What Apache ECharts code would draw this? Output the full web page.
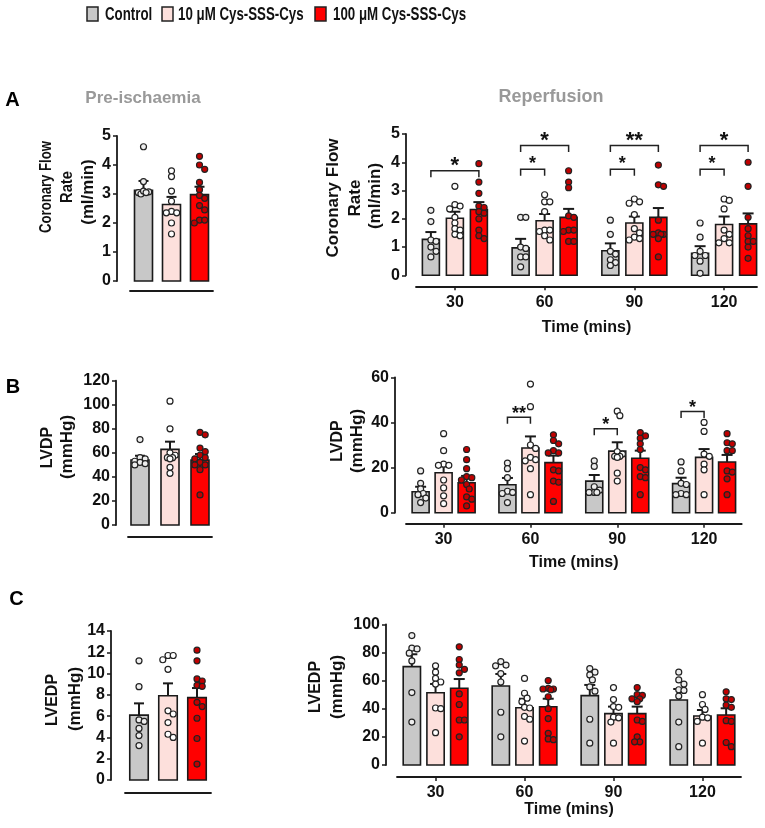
<!DOCTYPE html>
<html><head><meta charset="utf-8">
<script src="https://cdn.jsdelivr.net/npm/echarts@6/dist/echarts.min.js"></script>
<style>html,body{margin:0;padding:0;background:#fff}#c{width:765px;height:828px}</style>
</head><body><div id="c"></div>
<script>
// ---------------- DATA ----------------
const groupNames = ['Control', '10 μM Cys-SSS-Cys', '100 μM Cys-SSS-Cys'];
const times = [30, 60, 90, 120];
const timeTicks = ['30', '60', '90', '120'];

// A: Coronary flow rate (ml/min)
const cfPreMean = [3.13, 2.64, 2.98];
const cfPreSem = [0.32, 0.26, 0.27];
const cfPrePoints = [
  [4.63, 3.43, 3.07, 3.05, 3.0, 3.1, 3.05],
  [3.8, 3.6, 3.1, 2.75, 2.4, 2.35, 2.35, 2.0, 1.62],
  [4.3, 4.0, 3.85, 3.4, 3.15, 2.95, 2.85, 2.6, 2.45, 2.1, 2.0, 2.1]
];
const cfRepMean = [[1.27, 0.97, 0.87, 0.78], [2.02, 1.93, 1.85, 1.80], [2.33, 2.05, 2.05, 1.82]];
const cfRepSem = [[0.26, 0.32, 0.26, 0.25], [0.23, 0.24, 0.23, 0.28], [0.26, 0.30, 0.33, 0.37]];
const cfRepPoints = [
  [[2.3, 1.9, 1.25, 1.2, 1.0, 0.85, 0.65], [2.05, 2.05, 1.0, 0.95, 0.65, 0.65, 0.3],
   [1.95, 1.45, 0.85, 0.75, 0.55, 0.45, 0.35], [1.85, 1.35, 0.85, 0.7, 0.7, 0.5, 0.07]],
  [[3.15, 2.5, 2.45, 2.35, 2.05, 1.85, 1.65, 1.6, 1.45, 1.4], [2.85, 2.6, 2.6, 2.25, 1.6, 1.6, 1.55, 1.4, 1.25],
   [2.7, 2.6, 2.55, 2.15, 1.65, 1.5, 1.35, 1.3, 1.25], [2.7, 2.65, 2.35, 1.6, 1.45, 1.3, 1.15, 1.15]],
  [[3.95, 3.3, 2.9, 2.45, 2.4, 2.25, 2.2, 2.0, 1.6, 1.4, 1.3], [3.7, 3.3, 3.1, 2.1, 2.05, 1.6, 1.6, 1.55, 1.2, 1.2],
   [3.9, 3.2, 3.15, 1.95, 1.5, 1.45, 1.45, 1.45, 1.3, 0.65], [4.0, 3.15, 2.05, 1.65, 1.4, 1.2, 1.2, 1.0, 0.6]]
];
// significance: [time, fromGroup, toGroup, bracket level]
const cfSig = [[30, 0, 2, 3.70], [60, 0, 2, 4.59], [60, 0, 1, 3.75], [90, 0, 2, 4.59], [90, 0, 1, 3.75], [120, 0, 2, 4.59], [120, 0, 1, 3.75]];
const cfSigLabels = ['*', '*', '*', '**', '*', '*', '*'];

// B: LVDP (mmHg)
const lvdpPreMean = [54, 62.9, 54];
const lvdpPreSem = [3.6, 6.4, 5];
const lvdpPrePoints = [
  [71, 56, 55, 53, 52, 51, 50],
  [103, 80, 60, 58, 56, 56, 55, 48, 43],
  [77, 75, 64, 61, 58, 56, 55, 52, 50, 50, 46, 25]
];
const lvdpRepMean = [[9.3, 12.4, 14, 12.9], [17.7, 28.7, 27.3, 24.5], [13.3, 22.2, 24.1, 22.5]];
const lvdpRepSem = [[2.2, 3.0, 2.7, 2.6], [3.9, 5.1, 3.9, 3.7], [3.0, 3.1, 3.4, 3.1]];
const lvdpRepPoints = [
  [[18.5, 13, 10.5, 8.5, 8, 6.5, 4.5], [22, 19.5, 15.5, 9.5, 9, 8.5, 4.5],
   [23, 20.5, 11.5, 10, 9, 9, 9], [22.5, 18.5, 13, 12.5, 8.5, 8, 8]],
  [[35, 27.5, 21.5, 21, 21, 14.5, 11, 7.5, 4], [57, 47, 30, 28.5, 24.5, 23.5, 23, 19.5, 8],
   [45, 43, 27, 26, 25, 25, 24.5, 17.5, 14], [40, 36, 26, 25, 21.5, 19, 8]],
  [[28, 23.5, 19.5, 16, 15.5, 14.5, 12.5, 10.5, 7, 6, 3], [34.5, 32, 30.5, 27.5, 26.5, 26.5, 19, 18.5, 14, 13.5, 5],
   [35.5, 34, 33, 30.5, 28, 20, 19, 16, 15.5, 8], [35, 31, 30.5, 27.5, 27.5, 18.5, 18, 15, 8]]
];
const lvdpSig = [[60, 0, 1, 42.3], [90, 0, 1, 37.2], [120, 0, 1, 44.8]];
const lvdpSigLabels = ['**', '*', '*'];

// C: LVEDP (mmHg)
const lvedpPreMean = [6.1, 7.92, 7.74];
const lvedpPreSem = [1.1, 1.16, 0.9];
const lvedpPrePoints = [
  [11.2, 8.77, 5.64, 5.5, 4.85, 4.17, 3.23],
  [11.7, 11.7, 11.3, 10.4, 6.5, 6.2, 5.4, 4.3, 4.0],
  [12.2, 11.2, 9.5, 9.3, 8.9, 8.8, 7.3, 6.9, 5.8, 3.9, 1.5]
];
const lvedpRepMean = [[69.9, 56.1, 49.3, 46.2], [51.4, 40.7, 36.5, 34.8], [54.5, 41.4, 36.5, 35.5]];
const lvedpRepSem = [[8.8, 8.6, 7.6, 7.8], [6.2, 6.4, 5.0, 4.3], [6.6, 5.7, 5.0, 4.8]];
const lvedpRepPoints = [
  [[92, 83, 82.5, 79.5, 74, 51.5, 30.5], [73.5, 71, 70.5, 65, 59, 37.5, 20],
   [68.5, 66, 64, 60.5, 55.5, 52.5, 32.5, 15.5], [66, 60.5, 57.5, 53.5, 53, 49, 30.5, 13]],
  [[70.5, 66, 61.5, 59, 57.5, 40.5, 40, 23], [61.5, 51, 47.5, 45, 41, 40.5, 34.5, 32.5, 17],
   [55, 46.5, 41.5, 41, 34, 33.5, 30.5, 15.5], [50, 43, 39.5, 34, 33.5, 31, 15.5]],
  [[84, 75, 71, 68, 65.5, 50.5, 43, 32, 32, 20], [60, 54.5, 54, 54, 53.5, 48.5, 40, 33, 22.5, 18.5, 18],
   [55, 50, 49.5, 47, 47, 45, 32, 31, 20, 16.5, 16.5], [52, 47, 46.5, 42.5, 41, 31.5, 31, 16, 13]]
];

// ---------------- STYLE / LAYOUT ----------------
const fontBase = "'Liberation Sans', Arial, sans-serif";
const barFill = ['#c8c8c8', '#fde0dc', '#ff0000'];
const dotFill = ['#eeeeee', '#ffffff', '#c00000'];
const ink = '#1a1a1a';

const wrap1 = a => a.map(v => [v]);
const panels = [
  {grid: {left: 130, top: 136, width: 83, height: 145}, xMin: -1, xMax: 1, xs: [0], yMax: 5, yInt: 1, yOff: 13, xOff: 10,
   step: 28, bw: 18, cap: 10, mean: wrap1(cfPreMean), sem: wrap1(cfPreSem), pts: cfPrePoints.map(a => [a]), right: false},
  {grid: {left: 416, top: 134, width: 341, height: 141.3}, xMin: 17, xMax: 131, xs: times, yMax: 5, yInt: 1, yOff: 10, xOff: 11,
   step: 24, bw: 17, cap: 11, mean: cfRepMean, sem: cfRepSem, pts: cfRepPoints, right: true, nameGap: 33,
   sig: cfSig, sigLabels: cfSigLabels, sigBig: 22, sigSmall: 18, sigGap: 9.5},
  {grid: {left: 128, top: 380.7, width: 84, height: 144.3}, xMin: -1, xMax: 1, xs: [0], yMax: 120, yInt: 20, yOff: 12, xOff: 12,
   step: 30, bw: 18, cap: 10, mean: wrap1(lvdpPreMean), sem: wrap1(lvdpPreSem), pts: lvdpPrePoints.map(a => [a]), right: false},
  {grid: {left: 406, top: 377.3, width: 335.7, height: 135.4}, xMin: 17, xMax: 133, xs: times, yMax: 60, yInt: 20, yOff: 11, xOff: 11,
   step: 23, bw: 17, cap: 11, mean: lvdpRepMean, sem: lvdpRepSem, pts: lvdpRepPoints, right: true, nameGap: 31,
   sig: lvdpSig, sigLabels: lvdpSigLabels, sigBig: 18, sigSmall: 18, sigGap: 7.5},
  {grid: {left: 125, top: 631, width: 86, height: 149}, xMin: -1, xMax: 1, xs: [0], yMax: 14, yInt: 2, yOff: 14, xOff: 13,
   step: 29, bw: 18.5, cap: 10, mean: wrap1(lvedpPreMean), sem: wrap1(lvedpPreSem), pts: lvedpPrePoints.map(a => [a]), right: false},
  {grid: {left: 397, top: 624.3, width: 344, height: 140.7}, xMin: 17, xMax: 133, xs: times, yMax: 100, yInt: 20, yOff: 11, xOff: 12,
   step: 23.7, bw: 17.3, cap: 11, mean: lvedpRepMean, sem: lvedpRepSem, pts: lvedpRepPoints, right: true, nameGap: 24.5}
];

// deterministic beeswarm offsets (pixels) so dots at similar values spread sideways
function swarm(vals, k, bw) {
  const order = vals.map((v, i) => i).sort((a, b) => vals[b] - vals[a]);
  const placed = [], offs = new Array(vals.length).fill(0);
  const minD = 5.2, stepX = 2.6, maxX = bw / 2 - 2;
  const cands = [0];
  for (let d = stepX; d <= maxX + 0.01; d += stepX) cands.push(d, -d);
  order.forEach(i => {
    const y = vals[i] * k;
    let best = 0, bestScore = -1;
    for (const c of cands) {
      let md = Infinity;
      placed.forEach(q => { const dd = Math.hypot(q[0] - c, q[1] - y); if (dd < md) md = dd; });
      if (md >= minD) { best = c; break; }
      if (md > bestScore) { bestScore = md; best = c; }
    }
    offs[i] = best; placed.push([best, y]);
  });
  return offs;
}

const grids = [], xAxes = [], yAxes = [], series = [];
panels.forEach((p, pi) => {
  grids.push(Object.assign({outerBoundsMode: 'none', containLabel: false}, p.grid));
  xAxes.push({
    type: 'value', gridIndex: pi, min: p.xMin, max: p.xMax, offset: p.xOff, position: 'bottom',
    splitLine: {show: false},
    axisLine: {show: true, onZero: false, lineStyle: {color: ink, width: 1.8}},
    axisTick: p.right ? {show: true, customValues: times, length: 4, lineStyle: {color: ink, width: 1.5}} : {show: false},
    axisLabel: p.right ? {show: true, customValues: times, margin: 8, color: '#111', fontWeight: 'bold', fontSize: 16, fontFamily: fontBase,
      formatter: v => timeTicks[times.indexOf(v)]} : {show: false},
    name: p.right ? 'Time (mins)' : '', nameLocation: 'middle', nameGap: p.nameGap || 0,
    nameTextStyle: {color: '#111', fontWeight: 'bold', fontSize: 16, fontFamily: fontBase}
  });
  yAxes.push({
    type: 'value', gridIndex: pi, min: 0, max: p.yMax, interval: p.yInt, offset: p.yOff, position: 'left',
    splitLine: {show: false},
    axisLine: {show: true, onZero: false, lineStyle: {color: ink, width: 1.8}},
    axisTick: {show: true, length: 4, lineStyle: {color: ink, width: 1.5}},
    axisLabel: {margin: 6, color: '#111', fontWeight: 'bold', fontSize: 16, fontFamily: fontBase}
  });
  for (let g = 0; g < 3; g++) {
    // bars + upper error bars
    series.push({
      type: 'custom', name: groupNames[g], xAxisIndex: pi, yAxisIndex: pi, z: 2, silent: true,
      itemStyle: {color: barFill[g], borderColor: ink, borderWidth: 1.5},
      encode: {x: 0, y: 1},
      data: p.xs.map((x, i) => [x, p.mean[g][i], p.sem[g][i]]),
      renderItem(params, api) {
        const x = api.value(0), m = api.value(1), s = api.value(2);
        const top = api.coord([x, m]), base = api.coord([x, 0]), et = api.coord([x, m + s]);
        const cx = top[0] + (g - 1) * p.step;
        return {type: 'group', children: [
          {type: 'line', shape: {x1: cx, y1: top[1], x2: cx, y2: et[1]}, style: {stroke: ink, lineWidth: 2}},
          {type: 'line', shape: {x1: cx - p.cap / 2, y1: et[1], x2: cx + p.cap / 2, y2: et[1]}, style: {stroke: ink, lineWidth: 2}},
          {type: 'rect', shape: {x: cx - p.bw / 2, y: top[1], width: p.bw, height: base[1] - top[1]},
           style: {fill: barFill[g], stroke: ink, lineWidth: 1.6}}
        ]};
      }
    });
    // individual animals
    const k = p.grid.height / p.yMax;
    const data = [];
    p.xs.forEach((x, i) => {
      const vals = p.pts[g][i];
      const offs = swarm(vals, k, p.bw);
      vals.forEach((v, j) => data.push({value: [x, v], symbolOffset: [(g - 1) * p.step + offs[j], 0]}));
    });
    series.push({
      type: 'scatter', name: 'pts' + pi + '_' + g, xAxisIndex: pi, yAxisIndex: pi, z: 3, silent: true,
      symbol: 'circle', symbolSize: 6,
      itemStyle: {color: dotFill[g], borderColor: '#222', borderWidth: 1.2, opacity: 1},
      emphasis: {disabled: true}, data
    });
  }
  if (p.sig) {
    series.push({
      type: 'custom', name: 'sig' + pi, xAxisIndex: pi, yAxisIndex: pi, z: 4, silent: true,
      encode: {x: 0, y: 3},
      data: p.sig.map((s, i) => [s[0], s[1], s[2], s[3], i]),
      renderItem(params, api) {
        const pt = api.coord([api.value(0), api.value(3)]);
        const x1 = pt[0] + (api.value(1) - 1) * p.step, x2 = pt[0] + (api.value(2) - 1) * p.step;
        const y = pt[1], leg = 6.5;
        const fs = (api.value(2) - api.value(1) > 1) ? p.sigBig : p.sigSmall;
        return {type: 'group', children: [
          {type: 'polyline', shape: {points: [[x1, y + leg], [x1, y], [x2, y], [x2, y + leg]]},
           style: {stroke: '#222', lineWidth: 1.5, fill: 'none'}},
          {type: 'text', x: (x1 + x2) / 2, y: y - p.sigGap + 0.22 * fs,
           style: {text: p.sigLabels[api.value(4)], fontSize: fs, fontWeight: 'bold', fontFamily: fontBase, fill: '#111',
                   align: 'center', verticalAlign: 'middle'}}
        ]};
      }
    });
  }
});

// rotated axis titles: [text, x, y, fontSize, scaleX]
const yTitles = [
  ['Coronary Flow', 47, 187, 16, 0.82], ['Rate', 68, 187, 16, 0.92], ['(ml/min)', 89, 192, 16, 1.05],
  ['Coronary Flow', 333, 198, 17, 1], ['Rate', 355, 198, 17, 1], ['(ml/min)', 375, 196, 17, 1],
  ['LVDP', 47.5, 447.5, 16, 1], ['(mmHg)', 67.5, 447, 17, 1],
  ['LVDP', 337.5, 441, 16, 1], ['(mmHg)', 357.5, 441, 17, 1],
  ['LVEDP', 52.5, 700, 16, 1], ['(mmHg)', 75, 699, 17, 1],
  ['LVEDP', 316, 687, 16, 1], ['(mmHg)', 337.5, 687, 17, 1]
];
const graphic = yTitles.map(t => ({
  type: 'text', x: t[1], y: t[2], rotation: Math.PI / 2, scaleX: t[4], silent: true,
  style: {text: t[0], fontSize: t[3], fontWeight: 'bold', fontFamily: fontBase, fill: '#111', align: 'center', verticalAlign: 'middle'}
}));
[['A', 12.5, 100], ['B', 13, 387], ['C', 16.5, 599.5]].forEach(t => graphic.push({
  type: 'text', x: t[1], y: t[2], silent: true,
  style: {text: t[0], fontSize: 20, fontWeight: 'bold', fontFamily: fontBase, fill: '#000', align: 'center', verticalAlign: 'middle'}
}));
[['Pre-ischaemia', 143, 98, 17], ['Reperfusion', 551, 97, 18]].forEach(t => graphic.push({
  type: 'text', x: t[1], y: t[2], silent: true,
  style: {text: t[0], fontSize: t[3], fontWeight: 'bold', fontFamily: fontBase, fill: '#999999', align: 'center', verticalAlign: 'middle'}
}));
// legend (condensed bold text like the original): [swatch x, text x]
const legendPos = [[87, 105], [162, 178], [315, 333]];
groupNames.forEach((n, g) => {
  graphic.push({type: 'rect', x: legendPos[g][0], y: 7, silent: true, shape: {width: 11, height: 14},
    style: {fill: barFill[g], stroke: '#222', lineWidth: 1.5}});
  graphic.push({type: 'text', x: legendPos[g][1], y: 14.5, scaleX: 0.7, silent: true,
    style: {text: n, fontSize: 19, fontWeight: 'bold', fontFamily: fontBase, fill: '#111', align: 'left', verticalAlign: 'middle'}});
});

const chart = echarts.init(document.getElementById('c'), null, {renderer: 'canvas', width: 765, height: 828});
chart.setOption({
  backgroundColor: '#ffffff',
  animation: false,
  grid: grids, xAxis: xAxes, yAxis: yAxes, series, graphic
});
</script>
</body></html>
